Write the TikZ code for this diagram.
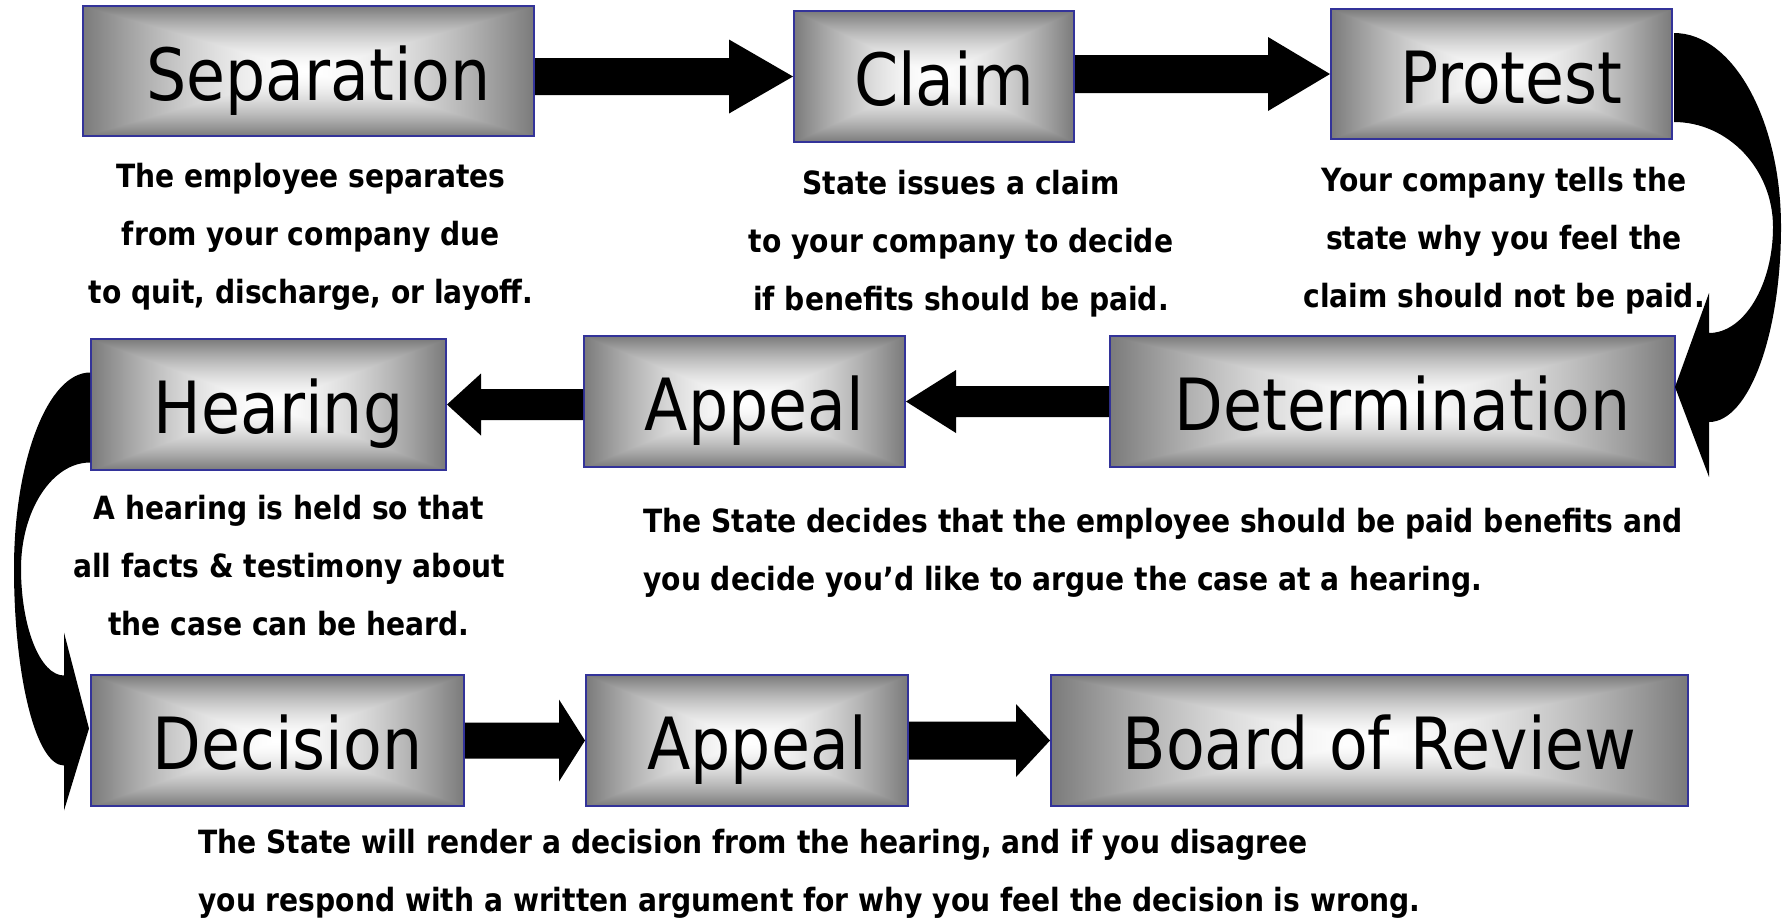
\documentclass[tikz,border=0pt]{standalone}
\usepackage{fontspec}
\setmainfont{DejaVu Sans}
\newfontfamily\boxfont[FakeStretch=0.88]{DejaVu Sans}
\newfontfamily\notefont[FakeStretch=0.88]{DejaVu Sans}
\usetikzlibrary{calc}

\definecolor{boxblue}{HTML}{333399}

% grey at the edges, white in the middle
\pgfdeclarefunctionalshading{rectglow}{\pgfpointorigin}{\pgfpoint{100bp}{100bp}}{}{
  50 sub abs exch 50 sub abs 2 copy lt {exch} if pop 25 div
  dup 1 gt {pop 1} if
  1.6 exp 0.52 mul 1 exch sub dup dup
}

% block arrow: from, to (tip), shaft half, head half, head base offset
\newcommand{\blockarrow}[5]{%
  \fill ($(#1 |- #2)+(0,-#3)$) -- ($(#2)+(#5,-#3)$) -- ($(#2)+(#5,-#4)$) -- (#2)
    -- ($(#2)+(#5,#4)$) -- ($(#2)+(#5,#3)$) -- ($(#1 |- #2)+(0,#3)$) -- cycle;}

\tikzset{
  stepbox/.style={draw=boxblue, line width=1pt, inner sep=0pt, shade, shading=rectglow,
    font=\boxfont\fontsize{36}{40}\selectfont, text height=30pt, text depth=1pt,
    execute at begin node=\hspace*{10pt}},
  note/.style={font=\notefont\bfseries\fontsize{16}{29}\selectfont, inner sep=0pt}
}

\begin{document}
\begin{tikzpicture}[x=0.5pt,y=-0.5pt]
  \useasboundingbox (0,0) rectangle (1782,918);

  % steps
  \node[stepbox, minimum width=225.5pt, minimum height=65pt] (sep) at (308.5,71) {Separation};
  \node[stepbox, minimum width=140pt, minimum height=65.5pt] (claim) at (934,76.5) {Claim};
  \node[stepbox, minimum width=170.5pt, minimum height=65pt] (protest) at (1501.5,74) {Protest};
  \node[stepbox, minimum width=177.5pt, minimum height=65.5pt] (hearing) at (268.5,404.5) {Hearing};
  \node[stepbox, minimum width=160.5pt, minimum height=65.5pt] (appeal1) at (744.5,401.5) {Appeal};
  \node[stepbox, minimum width=282.5pt, minimum height=65.5pt] (det) at (1392.5,401.5) {Determination};
  \node[stepbox, minimum width=186.5pt, minimum height=65.5pt] (dec) at (277.5,740.5) {Decision};
  \node[stepbox, minimum width=161pt, minimum height=65.5pt] (appeal2) at (747,740.5) {Appeal};
  \node[stepbox, minimum width=318.5pt, minimum height=65.5pt] (board) at (1369.5,740.5) {Board of Review};

  % notes
  \node[note, align=center, anchor=north] (sepnote) at (311,163)
    {The employee separates\\from your company due\\to quit, discharge, or layoff.};
  \node[note, align=center, anchor=north] (claimnote) at (961,170)
    {State issues a claim\\to your company to decide\\if benefits should be paid.};
  \node[note, align=center, anchor=north] (protestnote) at (1504,167)
    {Your company tells the\\state why you feel the\\claim should not be paid.};
  \node[note, align=center, anchor=north] (hearingnote) at (289,495)
    {A hearing is held so that\\all facts \& testimony about\\the case can be heard.};
  \node[note, align=left, anchor=north west] (detnote) at (643,508)
    {The State decides that the employee should be paid benefits and\\you decide you’d like to argue the case at a hearing.};
  \node[note, align=left, anchor=north west] (decnote) at (198,829)
    {The State will render a decision from the hearing, and if you disagree\\you respond with a written argument for why you feel the decision is wrong.};

  % straight arrows
  \blockarrow{sep.east}{claim.west}{18.5}{37}{-64}
  \blockarrow{claim.east}{protest.west}{19}{37}{-62}
  \blockarrow{det.west}{appeal1.east}{15.5}{31.5}{50}
  \blockarrow{appeal1.west}{hearing.east}{15.5}{31}{34}
  \blockarrow{dec.east}{appeal2.west}{18}{41}{-26}
  \blockarrow{appeal2.east}{board.west}{19}{36.5}{-34}

  % curved arrows
  \fill[shift={(protest.east)}] (1,-41) .. controls (60,-41) and (108,46) .. (108,153)
    .. controls (108,260) and (76,348) .. (36,348) -- (36,403) -- (2,313) -- (36,219) -- (36,259)
    .. controls (71,259) and (100,211) .. (100,153) .. controls (100,95) and (55,48) .. (1,48) -- cycle;
  \fill[shift={(hearing.west)}] (0,-32) .. controls (-42,-32) and (-76,56) .. (-76,164)
    .. controls (-76,272) and (-54,361) .. (-26,361) -- (-26,406) -- (-1,324) -- (-26,228) -- (-26,271)
    .. controls (-50,271) and (-69,222) .. (-69,164) .. controls (-69,106) and (-38,58) .. (0,58) -- cycle;
\end{tikzpicture}
\end{document}
